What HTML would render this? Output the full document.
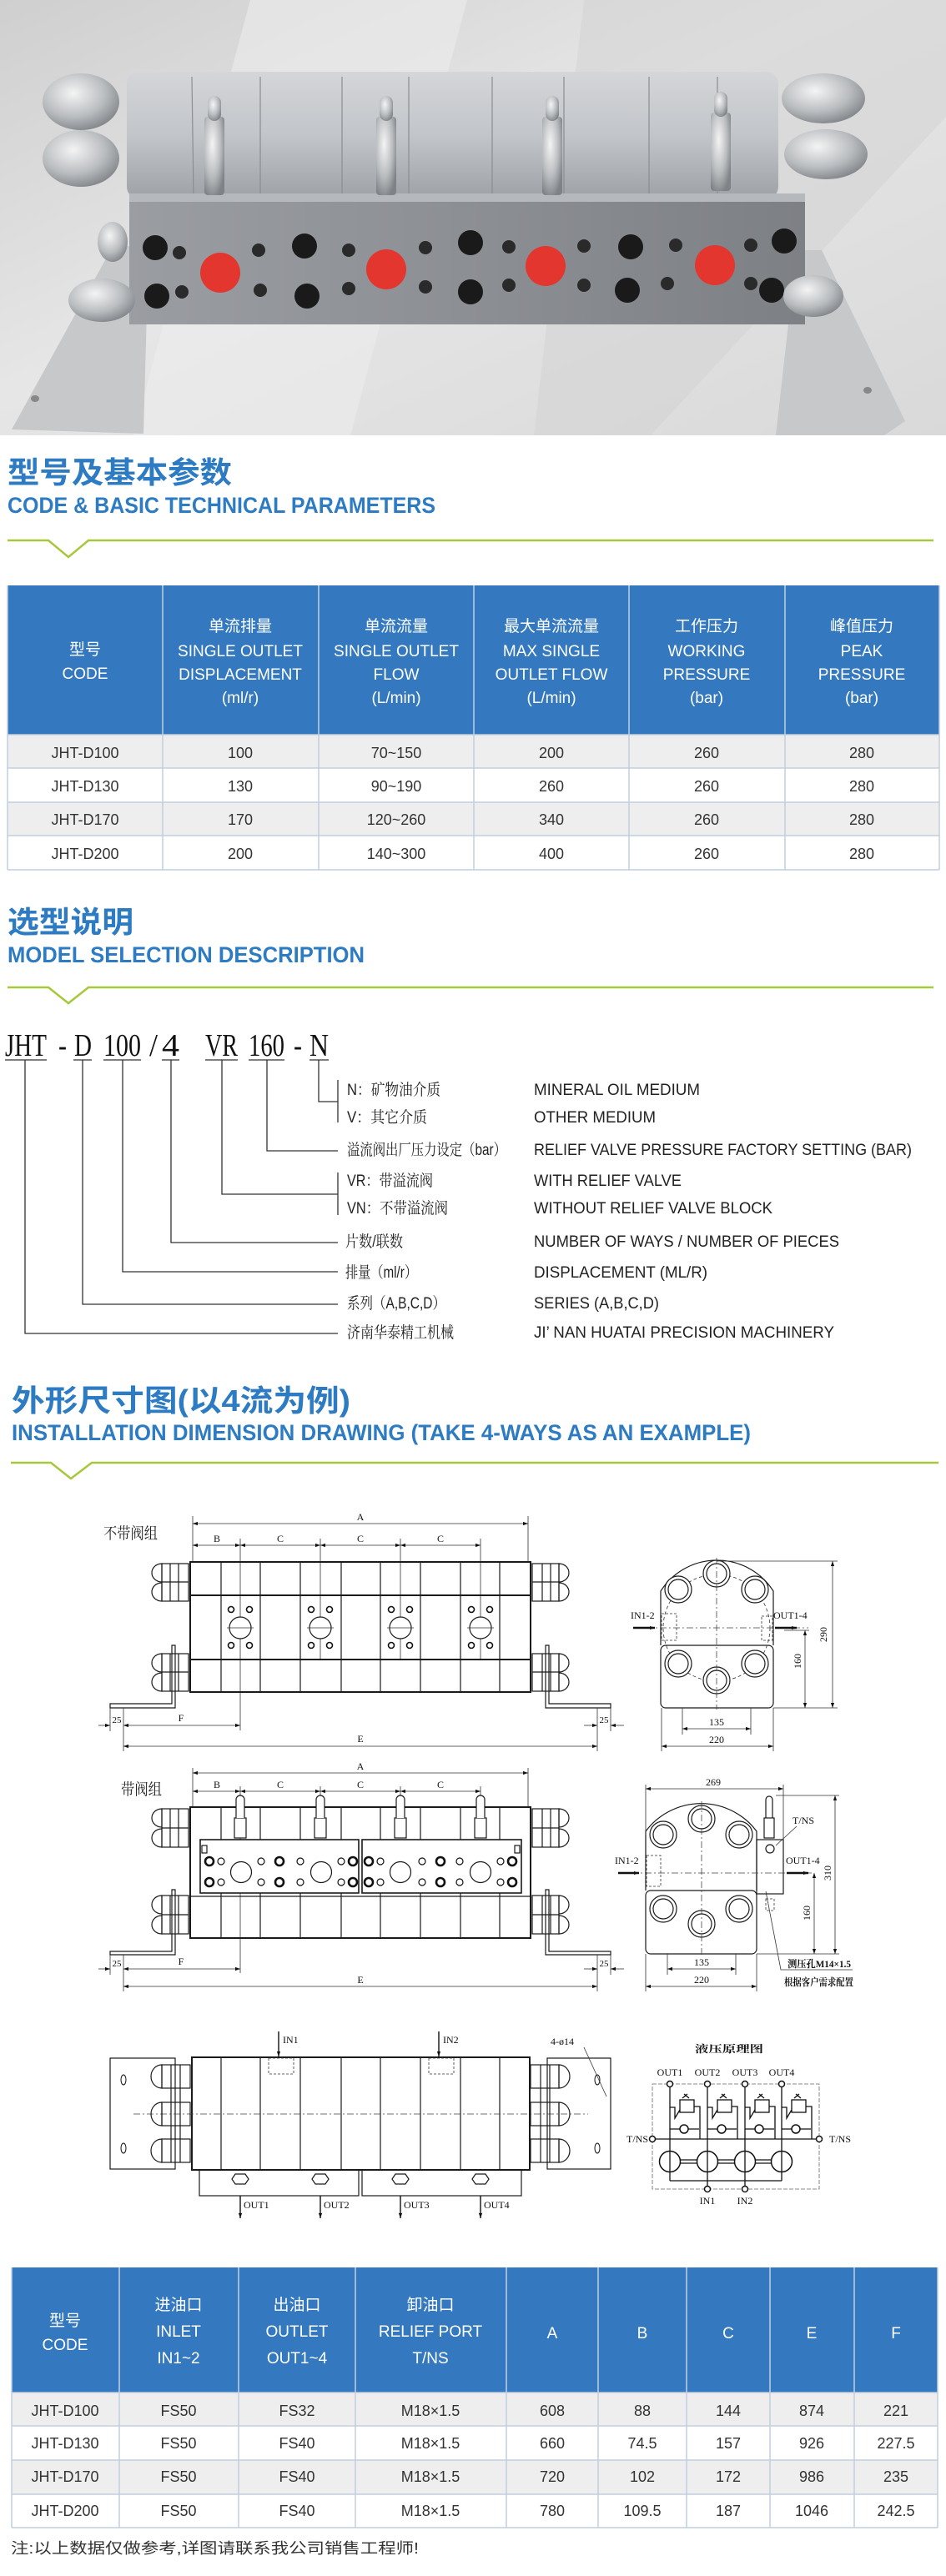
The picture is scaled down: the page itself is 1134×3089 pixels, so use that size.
<!DOCTYPE html>
<html><head><meta charset="utf-8"><style>
html,body{margin:0;padding:0;background:#fff}
svg{display:block}
.cn{font-family:"Liberation Sans","Noto Sans CJK SC",sans-serif}
.ttl{fill:#2d7cc3;font-weight:bold}
.th{fill:#fff;font-size:19px;text-anchor:middle}
.td{fill:#333;font-size:18px;text-anchor:middle}
.lb{font-family:"Liberation Sans","Noto Serif CJK SC",sans-serif;fill:#222;font-size:19px}
.dw{stroke:#1a1a1a;fill:none;stroke-width:1.2}
.dk{stroke:#1a1a1a;fill:none;stroke-width:2}
.th1{stroke:#333;fill:none;stroke-width:.8}
.dash{stroke:#444;fill:none;stroke-width:.8;stroke-dasharray:8 3 2 3}
.dt{font-family:"Liberation Serif","Noto Serif CJK SC",serif;font-size:12px;fill:#111}
</style></head><body>
<svg width="1134" height="3089" viewBox="0 0 1134 3089" xmlns="http://www.w3.org/2000/svg">
<defs>
<marker id="ar" viewBox="0 0 10 10" refX="10" refY="5" markerWidth="9" markerHeight="6" orient="auto-start-reverse" markerUnits="userSpaceOnUse"><path d="M0,1.5 L10,5 L0,8.5 Z" fill="#111"/></marker>
<linearGradient id="bg" x1="0" y1="0" x2="1" y2="1"><stop offset="0" stop-color="#cfcfcf"/><stop offset=".45" stop-color="#e6e6e6"/><stop offset="1" stop-color="#d9d9d9"/></linearGradient>
<linearGradient id="cyl" x1="0" y1="0" x2="0" y2="1"><stop offset="0" stop-color="#d4d6d9"/><stop offset=".5" stop-color="#c2c5c9"/><stop offset="1" stop-color="#9ea2a7"/></linearGradient>
<linearGradient id="blk" x1="0" y1="0" x2="1" y2="0"><stop offset="0" stop-color="#9a9da2"/><stop offset=".5" stop-color="#8c8f94"/><stop offset="1" stop-color="#7d8085"/></linearGradient>
<radialGradient id="met" cx=".4" cy=".35" r=".7"><stop offset="0" stop-color="#f4f4f4"/><stop offset=".6" stop-color="#b9bcbf"/><stop offset="1" stop-color="#7f8286"/></radialGradient>
</defs>

<!-- PHOTO -->
<rect x="0" y="0" width="1134" height="522" fill="url(#bg)"/>
<polygon points="300,0 560,0 420,522 160,522" fill="#ececec" opacity=".6"/>
<polygon points="700,0 1134,0 1134,140 780,522 640,522" fill="#d2d2d2" opacity=".5"/>
<polygon points="137,292 178,300 172,520 14,515" fill="#c6c8ca"/>
<polygon points="955,300 985,300 1085,505 1060,522 930,522" fill="#c6c8ca"/>
<ellipse cx="42" cy="478" rx="5" ry="4" fill="#888"/>
<ellipse cx="1040" cy="468" rx="5" ry="4" fill="#888"/>
<rect x="152" y="86" width="781" height="152" rx="14" fill="url(#cyl)"/>
<g stroke="#8a8d91" stroke-width="1.2">
<line x1="230" y1="92" x2="232" y2="232"/><line x1="312" y1="92" x2="312" y2="232"/><line x1="410" y1="92" x2="410" y2="232"/><line x1="490" y1="92" x2="490" y2="232"/><line x1="590" y1="92" x2="590" y2="232"/><line x1="676" y1="92" x2="676" y2="232"/><line x1="778" y1="92" x2="778" y2="232"/><line x1="860" y1="92" x2="860" y2="232"/></g>
<rect x="155" y="236" width="810" height="153" fill="url(#blk)"/>
<rect x="155" y="232" width="810" height="10" fill="#b5b8bc"/>
<g fill="#1a1a1a">
<circle cx="186" cy="297" r="15"/><circle cx="365" cy="295" r="15"/><circle cx="564" cy="291" r="15"/><circle cx="756" cy="296" r="15"/><circle cx="940" cy="289" r="15"/>
<circle cx="188" cy="355" r="15"/><circle cx="368" cy="355" r="15"/><circle cx="564" cy="350" r="15"/><circle cx="752" cy="348" r="15"/><circle cx="925" cy="348" r="15"/>
</g>
<g fill="#2a2a2a">
<circle cx="215" cy="303" r="8"/><circle cx="310" cy="300" r="8"/><circle cx="418" cy="300" r="8"/><circle cx="510" cy="297" r="8"/><circle cx="610" cy="296" r="8"/><circle cx="700" cy="295" r="8"/><circle cx="810" cy="294" r="8"/><circle cx="900" cy="294" r="8"/>
<circle cx="218" cy="350" r="8"/><circle cx="312" cy="348" r="8"/><circle cx="418" cy="346" r="8"/><circle cx="510" cy="344" r="8"/><circle cx="610" cy="342" r="8"/><circle cx="700" cy="342" r="8"/><circle cx="800" cy="340" r="8"/><circle cx="900" cy="340" r="8"/>
</g>
<g fill="#e2362e"><ellipse cx="264" cy="327" rx="24" ry="24"/><ellipse cx="463" cy="323" rx="24" ry="24"/><ellipse cx="654" cy="319" rx="24" ry="24"/><ellipse cx="857" cy="318" rx="24" ry="24"/></g>
<g fill="url(#met)">
<rect x="245" y="140" width="24" height="94" rx="4"/><rect x="451" y="140" width="24" height="94" rx="4"/><rect x="650" y="140" width="24" height="94" rx="4"/><rect x="852" y="135" width="24" height="94" rx="4"/>
<rect x="249" y="115" width="16" height="30" rx="8"/><rect x="455" y="115" width="16" height="30" rx="8"/><rect x="654" y="115" width="16" height="30" rx="8"/><rect x="856" y="110" width="16" height="30" rx="8"/>
<ellipse cx="97" cy="122" rx="46" ry="34"/><ellipse cx="97" cy="190" rx="46" ry="34"/><ellipse cx="987" cy="118" rx="50" ry="30"/><ellipse cx="990" cy="185" rx="50" ry="30"/>
<ellipse cx="122" cy="360" rx="40" ry="26"/><ellipse cx="975" cy="355" rx="36" ry="25"/><ellipse cx="135" cy="290" rx="18" ry="24"/>
</g>

<!-- SECTION 1 -->
<text x="9" y="579" class="cn ttl" font-size="36" textLength="269" lengthAdjust="spacingAndGlyphs">型号及基本参数</text>
<text x="9" y="615" class="cn ttl" font-size="27" textLength="513" lengthAdjust="spacingAndGlyphs">CODE &amp; BASIC TECHNICAL PARAMETERS</text>
<polyline points="9,648 58,648 82,668 106,648 1119,648" fill="none" stroke="#a7c83b" stroke-width="2.5"/>

<rect x="9" y="702" width="1117" height="179" fill="#3479bf"/>
<rect x="9" y="881" width="1117" height="40" fill="#eeeeee"/>
<rect x="9" y="962" width="1117" height="40" fill="#eeeeee"/>
<g stroke="#c2cfe0" stroke-width="1.5">
<line x1="9" y1="881" x2="1126" y2="881"/><line x1="9" y1="921" x2="1126" y2="921"/><line x1="9" y1="962" x2="1126" y2="962"/><line x1="9" y1="1002" x2="1126" y2="1002"/><line x1="9" y1="1043" x2="1126" y2="1043"/>
<line x1="195" y1="702" x2="195" y2="1043"/><line x1="382" y1="702" x2="382" y2="1043"/><line x1="568" y1="702" x2="568" y2="1043"/><line x1="754" y1="702" x2="754" y2="1043"/><line x1="941" y1="702" x2="941" y2="1043"/>
<line x1="9" y1="702" x2="9" y2="1043"/><line x1="1126" y1="702" x2="1126" y2="1043"/></g>
<g class="cn th">
<text x="102" y="785">型号</text><text x="102" y="814">CODE</text>
<text x="288" y="757">单流排量</text><text x="288" y="787">SINGLE OUTLET</text><text x="288" y="815">DISPLACEMENT</text><text x="288" y="843">(ml/r)</text>
<text x="475" y="757">单流流量</text><text x="475" y="787">SINGLE OUTLET</text><text x="475" y="815">FLOW</text><text x="475" y="843">(L/min)</text>
<text x="661" y="757">最大单流流量</text><text x="661" y="787">MAX SINGLE</text><text x="661" y="815">OUTLET FLOW</text><text x="661" y="843">(L/min)</text>
<text x="847" y="757">工作压力</text><text x="847" y="787">WORKING</text><text x="847" y="815">PRESSURE</text><text x="847" y="843">(bar)</text>
<text x="1033" y="757">峰值压力</text><text x="1033" y="787">PEAK</text><text x="1033" y="815">PRESSURE</text><text x="1033" y="843">(bar)</text>
</g>
<g class="cn td">
<text x="102" y="909">JHT-D100</text><text x="288" y="909">100</text><text x="475" y="909">70~150</text><text x="661" y="909">200</text><text x="847" y="909">260</text><text x="1033" y="909">280</text>
<text x="102" y="949">JHT-D130</text><text x="288" y="949">130</text><text x="475" y="949">90~190</text><text x="661" y="949">260</text><text x="847" y="949">260</text><text x="1033" y="949">280</text>
<text x="102" y="989">JHT-D170</text><text x="288" y="989">170</text><text x="475" y="989">120~260</text><text x="661" y="989">340</text><text x="847" y="989">260</text><text x="1033" y="989">280</text>
<text x="102" y="1030">JHT-D200</text><text x="288" y="1030">200</text><text x="475" y="1030">140~300</text><text x="661" y="1030">400</text><text x="847" y="1030">260</text><text x="1033" y="1030">280</text>
</g>

<!-- SECTION 2 -->
<text x="9" y="1118" class="cn ttl" font-size="36" textLength="151" lengthAdjust="spacingAndGlyphs">选型说明</text>
<text x="9" y="1154" class="cn ttl" font-size="27" textLength="428" lengthAdjust="spacingAndGlyphs">MODEL SELECTION DESCRIPTION</text>
<polyline points="9,1184 58,1184 82,1203 106,1184 1119,1184" fill="none" stroke="#a7c83b" stroke-width="2.5"/>

<g font-family="Liberation Serif,serif" font-size="38" fill="#111">
<text x="6" y="1266" textLength="50" lengthAdjust="spacingAndGlyphs">JHT</text>
<text x="70" y="1266" textLength="10" lengthAdjust="spacingAndGlyphs">-</text>
<text x="89" y="1266" textLength="21" lengthAdjust="spacingAndGlyphs">D</text>
<text x="124" y="1266" textLength="45" lengthAdjust="spacingAndGlyphs">100</text>
<text x="179" y="1266" textLength="10" lengthAdjust="spacingAndGlyphs">/</text>
<text x="194" y="1266" textLength="21" lengthAdjust="spacingAndGlyphs">4</text>
<text x="246" y="1266" textLength="39" lengthAdjust="spacingAndGlyphs">VR</text>
<text x="298" y="1266" textLength="43" lengthAdjust="spacingAndGlyphs">160</text>
<text x="352" y="1266" textLength="10" lengthAdjust="spacingAndGlyphs">-</text>
<text x="371" y="1266" textLength="23" lengthAdjust="spacingAndGlyphs">N</text>
</g>
<g stroke="#333" stroke-width="1.3" fill="none">
<line x1="6" y1="1271" x2="56" y2="1271"/><line x1="88" y1="1271" x2="110" y2="1271"/><line x1="124" y1="1271" x2="169" y2="1271"/><line x1="194" y1="1271" x2="215" y2="1271"/><line x1="246" y1="1271" x2="285" y2="1271"/><line x1="298" y1="1271" x2="341" y2="1271"/><line x1="371" y1="1271" x2="394" y2="1271"/>
<polyline points="30,1271 30,1599 405,1599"/>
<polyline points="99,1271 99,1564 405,1564"/>
<polyline points="147,1271 147,1525 405,1525"/>
<polyline points="205,1271 205,1490 405,1490"/>
<polyline points="266,1271 266,1432 405,1432"/>
<polyline points="320,1271 320,1380 405,1380"/>
<polyline points="382,1271 382,1321 405,1321"/>
<line x1="405" y1="1295" x2="405" y2="1346"/>
<line x1="405" y1="1406" x2="405" y2="1457"/>
</g>
<g class="lb">
<text x="416" y="1313" textLength="112" lengthAdjust="spacingAndGlyphs">N：矿物油介质</text>
<text x="416" y="1346" textLength="96" lengthAdjust="spacingAndGlyphs">V：其它介质</text>
<text x="416" y="1385" textLength="191" lengthAdjust="spacingAndGlyphs">溢流阀出厂压力设定（bar）</text>
<text x="416" y="1422" textLength="103" lengthAdjust="spacingAndGlyphs">VR：带溢流阀</text>
<text x="416" y="1455" textLength="121" lengthAdjust="spacingAndGlyphs">VN：不带溢流阀</text>
<text x="414" y="1495" textLength="69" lengthAdjust="spacingAndGlyphs">片数/联数</text>
<text x="414" y="1532" textLength="86" lengthAdjust="spacingAndGlyphs">排量（ml/r）</text>
<text x="416" y="1569" textLength="118" lengthAdjust="spacingAndGlyphs">系列（A,B,C,D）</text>
<text x="416" y="1604" textLength="128" lengthAdjust="spacingAndGlyphs">济南华泰精工机械</text>
<text x="640" y="1313" textLength="199" lengthAdjust="spacingAndGlyphs">MINERAL OIL MEDIUM</text>
<text x="640" y="1346" textLength="146" lengthAdjust="spacingAndGlyphs">OTHER MEDIUM</text>
<text x="640" y="1385" textLength="453" lengthAdjust="spacingAndGlyphs">RELIEF VALVE PRESSURE FACTORY SETTING (BAR)</text>
<text x="640" y="1422" textLength="177" lengthAdjust="spacingAndGlyphs">WITH RELIEF VALVE</text>
<text x="640" y="1455" textLength="286" lengthAdjust="spacingAndGlyphs">WITHOUT RELIEF VALVE BLOCK</text>
<text x="640" y="1495" textLength="366" lengthAdjust="spacingAndGlyphs">NUMBER OF WAYS / NUMBER OF PIECES</text>
<text x="640" y="1532" textLength="208" lengthAdjust="spacingAndGlyphs">DISPLACEMENT (ML/R)</text>
<text x="640" y="1569" textLength="150" lengthAdjust="spacingAndGlyphs">SERIES (A,B,C,D)</text>
<text x="640" y="1604" textLength="360" lengthAdjust="spacingAndGlyphs">JI’ NAN HUATAI PRECISION MACHINERY</text>
</g>

<!-- SECTION 3 -->
<text x="14" y="1692" class="cn ttl" font-size="36" textLength="406" lengthAdjust="spacingAndGlyphs">外形尺寸图(以4流为例)</text>
<text x="14" y="1727" class="cn ttl" font-size="27" textLength="886" lengthAdjust="spacingAndGlyphs">INSTALLATION DIMENSION DRAWING (TAKE 4-WAYS AS AN EXAMPLE)</text>
<polyline points="13,1754 61,1754 85,1773 110,1754 1125,1754" fill="none" stroke="#a7c83b" stroke-width="2.5"/>

<!-- Drawing 1 -->
<text x="124" y="1845" class="lb" font-size="19" textLength="65" lengthAdjust="spacingAndGlyphs">不带阀组</text>
<g class="th1">
<line x1="231" y1="1818" x2="231" y2="1873"/><line x1="633" y1="1818" x2="633" y2="1873"/>
<line x1="288" y1="1845" x2="288" y2="2075"/><line x1="384" y1="1845" x2="384" y2="1990"/><line x1="480" y1="1845" x2="480" y2="1990"/><line x1="576" y1="1845" x2="576" y2="1990"/>
</g>
<g class="th1" marker-start="url(#ar)" marker-end="url(#ar)">
<line x1="231" y1="1827" x2="633" y2="1827" marker-start="url(#ar)" marker-end="url(#ar)"/>
<line x1="231" y1="1853" x2="288" y2="1853" marker-start="url(#ar)" marker-end="url(#ar)"/>
<line x1="288" y1="1853" x2="384" y2="1853" marker-start="url(#ar)" marker-end="url(#ar)"/>
<line x1="384" y1="1853" x2="480" y2="1853" marker-start="url(#ar)" marker-end="url(#ar)"/>
<line x1="480" y1="1853" x2="576" y2="1853" marker-start="url(#ar)" marker-end="url(#ar)"/>
</g>
<g class="dt" text-anchor="middle"><text x="432" y="1823">A</text><text x="260" y="1849">B</text><text x="336" y="1849">C</text><text x="432" y="1849">C</text><text x="528" y="1849">C</text></g>
<rect x="228" y="1873" width="408" height="156" class="dk"/>
<line x1="228" y1="1913" x2="636" y2="1913" class="dk"/><line x1="228" y1="1990" x2="636" y2="1990" class="dk"/>
<g class="dw"><line x1="265" y1="1873" x2="265" y2="2029"/><line x1="312" y1="1873" x2="312" y2="2029"/><line x1="360" y1="1873" x2="360" y2="2029"/><line x1="409" y1="1873" x2="409" y2="2029"/><line x1="456" y1="1873" x2="456" y2="2029"/><line x1="504" y1="1873" x2="504" y2="2029"/><line x1="552" y1="1873" x2="552" y2="2029"/><line x1="599" y1="1873" x2="599" y2="2029"/></g>
<g class="dw" fill="#fff">
<circle cx="288" cy="1952" r="13" fill="#fff"/><circle cx="384" cy="1952" r="13" fill="#fff"/><circle cx="480" cy="1952" r="13" fill="#fff"/><circle cx="576" cy="1952" r="13" fill="#fff"/>
</g>
<g fill="#fff" stroke="#111" stroke-width="1.6">
<circle cx="277" cy="1930" r="3.5"/><circle cx="299" cy="1930" r="3.5"/><circle cx="277" cy="1973" r="3.5"/><circle cx="299" cy="1973" r="3.5"/>
<circle cx="373" cy="1930" r="3.5"/><circle cx="395" cy="1930" r="3.5"/><circle cx="373" cy="1973" r="3.5"/><circle cx="395" cy="1973" r="3.5"/>
<circle cx="469" cy="1930" r="3.5"/><circle cx="491" cy="1930" r="3.5"/><circle cx="469" cy="1973" r="3.5"/><circle cx="491" cy="1973" r="3.5"/>
<circle cx="565" cy="1930" r="3.5"/><circle cx="587" cy="1930" r="3.5"/><circle cx="565" cy="1973" r="3.5"/><circle cx="587" cy="1973" r="3.5"/>
</g>
<g class="th1"><line x1="272" y1="1952" x2="304" y2="1952"/><line x1="368" y1="1952" x2="400" y2="1952"/><line x1="464" y1="1952" x2="496" y2="1952"/><line x1="560" y1="1952" x2="592" y2="1952"/></g>
<!-- glands d1 -->
<g class="dw" fill="#fff">
<path d="M194,1875 A12,11 0 0 0 194,1897 Z M194,1898 A12,11 0 0 0 194,1920 Z M194,1983 A12,11 0 0 0 194,2005 Z M194,2006 A12,11 0 0 0 194,2028 Z"/>
<rect x="194" y="1875" width="32" height="45"/><rect x="194" y="1983" width="32" height="45"/>
<line x1="204" y1="1875" x2="204" y2="1920"/><line x1="214" y1="1875" x2="214" y2="1920"/><line x1="194" y1="1897" x2="226" y2="1897"/>
<line x1="204" y1="1983" x2="204" y2="2028"/><line x1="214" y1="1983" x2="214" y2="2028"/><line x1="194" y1="2005" x2="226" y2="2005"/>
<path d="M670,1875 A12,11 0 0 1 670,1897 Z M670,1898 A12,11 0 0 1 670,1920 Z M670,1983 A12,11 0 0 1 670,2005 Z M670,2006 A12,11 0 0 1 670,2028 Z"/>
<rect x="638" y="1875" width="32" height="45"/><rect x="638" y="1983" width="32" height="45"/>
<line x1="650" y1="1875" x2="650" y2="1920"/><line x1="660" y1="1875" x2="660" y2="1920"/><line x1="638" y1="1897" x2="670" y2="1897"/>
<line x1="650" y1="1983" x2="650" y2="2028"/><line x1="660" y1="1983" x2="660" y2="2028"/><line x1="638" y1="2005" x2="670" y2="2005"/>
</g>
<path d="M206,1973 L206,2043 L132,2043 L132,2048 L210,2048 L210,1973 Z" class="dw" fill="#fff"/>
<path d="M658,1973 L658,2043 L732,2043 L732,2048 L654,2048 L654,1973 Z" class="dw" fill="#fff"/>
<g class="th1"><line x1="132" y1="2048" x2="132" y2="2076"/><line x1="148" y1="2048" x2="148" y2="2100"/><line x1="716" y1="2048" x2="716" y2="2100"/><line x1="732" y1="2048" x2="732" y2="2076"/>
<line x1="118" y1="2069" x2="132" y2="2069" marker-end="url(#ar)"/><line x1="148" y1="2069" x2="288" y2="2069" marker-start="url(#ar)" marker-end="url(#ar)"/>
<line x1="148" y1="2094" x2="716" y2="2094" marker-start="url(#ar)" marker-end="url(#ar)"/>
<line x1="700" y1="2069" x2="716" y2="2069" marker-end="url(#ar)"/><line x1="748" y1="2069" x2="732" y2="2069" marker-end="url(#ar)"/></g>
<g class="dt" text-anchor="middle"><text x="140" y="2066" font-size="11">25</text><text x="217" y="2064">F</text><text x="432" y="2089">E</text><text x="724" y="2066" font-size="11">25</text></g>
<!-- side 1 -->
<path d="M792,1973 L792,1908 A80,80 0 0 1 927,1908 L927,1973" class="dw"/>
<rect x="792" y="1973" width="135" height="75" rx="6" class="dw"/>
<circle cx="859" cy="1952" r="64" class="th1" stroke-dasharray="4 3"/>
<g class="dw" fill="#fff">
<circle cx="859" cy="1887" r="16" fill="#fff"/><circle cx="813" cy="1906" r="16" fill="#fff"/><circle cx="905" cy="1906" r="16" fill="#fff"/><circle cx="813" cy="1995" r="16" fill="#fff"/><circle cx="905" cy="1995" r="16" fill="#fff"/><circle cx="859" cy="2015" r="16" fill="#fff"/>
<circle cx="859" cy="1887" r="12"/><circle cx="813" cy="1906" r="12"/><circle cx="905" cy="1906" r="12"/><circle cx="813" cy="1995" r="12"/><circle cx="905" cy="1995" r="12"/><circle cx="859" cy="2015" r="12"/>
</g>
<line x1="759" y1="1952" x2="969" y2="1952" class="dash"/><line x1="859" y1="1868" x2="859" y2="2050" class="dash"/>
<rect x="793" y="1935" width="18" height="32" class="th1" stroke-dasharray="3 2"/><rect x="913" y="1938" width="13" height="29" class="th1" stroke-dasharray="3 2"/>
<line x1="759" y1="1952" x2="785" y2="1952" stroke="#111" stroke-width="2.5" marker-end="url(#ar)"/>
<line x1="929" y1="1952" x2="955" y2="1952" stroke="#111" stroke-width="2.5" marker-end="url(#ar)"/>
<text x="756" y="1941" class="dt" font-size="11">IN1-2</text><text x="927" y="1941" class="dt" font-size="11">OUT1-4</text>
<g class="th1"><line x1="859" y1="1872" x2="1004" y2="1872"/><line x1="927" y1="2048" x2="1004" y2="2048"/><line x1="940" y1="1955" x2="970" y2="1955"/>
<line x1="998" y1="1872" x2="998" y2="2048" marker-start="url(#ar)" marker-end="url(#ar)"/><line x1="965" y1="1955" x2="965" y2="2048" marker-start="url(#ar)" marker-end="url(#ar)"/>
<line x1="818" y1="2048" x2="818" y2="2080"/><line x1="900" y1="2048" x2="900" y2="2080"/><line x1="793" y1="2048" x2="793" y2="2100"/><line x1="927" y1="2048" x2="927" y2="2100"/>
<line x1="818" y1="2073" x2="900" y2="2073" marker-start="url(#ar)" marker-end="url(#ar)"/><line x1="793" y1="2094" x2="927" y2="2094" marker-start="url(#ar)" marker-end="url(#ar)"/></g>
<g class="dt" text-anchor="middle"><text transform="translate(991,1960) rotate(-90)">290</text><text transform="translate(960,1992) rotate(-90)">160</text><text x="859" y="2069">135</text><text x="859" y="2090">220</text></g>

<!-- Drawing 2 -->
<text x="145" y="2152" class="lb" font-size="19" textLength="49" lengthAdjust="spacingAndGlyphs">带阀组</text>
<g class="th1">
<line x1="231" y1="2120" x2="231" y2="2167"/><line x1="633" y1="2120" x2="633" y2="2167"/>
<line x1="288" y1="2142" x2="288" y2="2366"/><line x1="384" y1="2142" x2="384" y2="2156"/><line x1="480" y1="2142" x2="480" y2="2156"/><line x1="576" y1="2142" x2="576" y2="2156"/>
<line x1="231" y1="2126" x2="633" y2="2126" marker-start="url(#ar)" marker-end="url(#ar)"/>
<line x1="231" y1="2148" x2="288" y2="2148" marker-start="url(#ar)" marker-end="url(#ar)"/>
<line x1="288" y1="2148" x2="384" y2="2148" marker-start="url(#ar)" marker-end="url(#ar)"/>
<line x1="384" y1="2148" x2="480" y2="2148" marker-start="url(#ar)" marker-end="url(#ar)"/>
<line x1="480" y1="2148" x2="576" y2="2148" marker-start="url(#ar)" marker-end="url(#ar)"/>
</g>
<g class="dt" text-anchor="middle"><text x="432" y="2122">A</text><text x="260" y="2144">B</text><text x="336" y="2144">C</text><text x="432" y="2144">C</text><text x="528" y="2144">C</text></g>
<rect x="228" y="2167" width="408" height="157" class="dk"/>
<line x1="228" y1="2274" x2="636" y2="2274" class="dw"/>
<g class="dw"><line x1="265" y1="2167" x2="265" y2="2324"/><line x1="312" y1="2167" x2="312" y2="2324"/><line x1="360" y1="2167" x2="360" y2="2324"/><line x1="409" y1="2167" x2="409" y2="2324"/><line x1="456" y1="2167" x2="456" y2="2324"/><line x1="504" y1="2167" x2="504" y2="2324"/><line x1="552" y1="2167" x2="552" y2="2324"/><line x1="599" y1="2167" x2="599" y2="2324"/></g>
<g class="dw" fill="#fff">
<rect x="281" y="2180" width="14" height="24" fill="#fff"/><rect x="377" y="2180" width="14" height="24" fill="#fff"/><rect x="473" y="2180" width="14" height="24" fill="#fff"/><rect x="569" y="2180" width="14" height="24" fill="#fff"/>
<path d="M283,2180 L283,2158 A5,5 0 0 1 293,2158 L293,2180 M379,2180 L379,2158 A5,5 0 0 1 389,2158 L389,2180 M475,2180 L475,2158 A5,5 0 0 1 485,2158 L485,2180 M571,2180 L571,2158 A5,5 0 0 1 581,2158 L581,2180" fill="#fff"/>
<rect x="240" y="2206" width="190" height="64" fill="#fff" stroke-width="1.6"/><rect x="434" y="2206" width="191" height="64" fill="#fff" stroke-width="1.6"/>
<circle cx="289" cy="2245" r="12.5"/><circle cx="385" cy="2245" r="12.5"/><circle cx="480" cy="2245" r="12.5"/><circle cx="576" cy="2245" r="12.5"/>
<rect x="242" y="2213" width="6" height="9"/><rect x="617" y="2213" width="6" height="9"/>
</g>
<g fill="#fff" stroke="#111" stroke-width="2.6">
<circle cx="251" cy="2232" r="5"/><circle cx="335" cy="2232" r="5"/><circle cx="423" cy="2232" r="5"/><circle cx="442" cy="2232" r="5"/><circle cx="528" cy="2232" r="5"/><circle cx="614" cy="2232" r="5"/>
<circle cx="251" cy="2257" r="5"/><circle cx="335" cy="2257" r="5"/><circle cx="423" cy="2257" r="5"/><circle cx="442" cy="2257" r="5"/><circle cx="528" cy="2257" r="5"/><circle cx="614" cy="2257" r="5"/>
</g>
<g fill="#fff" stroke="#111" stroke-width="1.2">
<circle cx="265" cy="2232" r="4"/><circle cx="313" cy="2232" r="4"/><circle cx="360" cy="2232" r="4"/><circle cx="409" cy="2232" r="4"/><circle cx="456" cy="2232" r="4"/><circle cx="506" cy="2232" r="4"/><circle cx="551" cy="2232" r="4"/><circle cx="600" cy="2232" r="4"/>
<circle cx="265" cy="2257" r="4"/><circle cx="313" cy="2257" r="4"/><circle cx="360" cy="2257" r="4"/><circle cx="409" cy="2257" r="4"/><circle cx="456" cy="2257" r="4"/><circle cx="506" cy="2257" r="4"/><circle cx="551" cy="2257" r="4"/><circle cx="600" cy="2257" r="4"/>
</g>
<g class="dw" fill="#fff">
<path d="M194,2169 A12,11 0 0 0 194,2191 Z M194,2193 A12,11 0 0 0 194,2215 Z M194,2273 A12,11 0 0 0 194,2295 Z M194,2297 A12,11 0 0 0 194,2319 Z"/>
<rect x="194" y="2169" width="32" height="46"/><rect x="194" y="2273" width="32" height="46"/>
<line x1="204" y1="2169" x2="204" y2="2215"/><line x1="214" y1="2169" x2="214" y2="2215"/><line x1="194" y1="2192" x2="226" y2="2192"/>
<line x1="204" y1="2273" x2="204" y2="2319"/><line x1="214" y1="2273" x2="214" y2="2319"/><line x1="194" y1="2296" x2="226" y2="2296"/>
<path d="M670,2169 A12,11 0 0 1 670,2191 Z M670,2193 A12,11 0 0 1 670,2215 Z M670,2273 A12,11 0 0 1 670,2295 Z M670,2297 A12,11 0 0 1 670,2319 Z"/>
<rect x="638" y="2169" width="32" height="46"/><rect x="638" y="2273" width="32" height="46"/>
<line x1="650" y1="2169" x2="650" y2="2215"/><line x1="660" y1="2169" x2="660" y2="2215"/><line x1="638" y1="2192" x2="670" y2="2192"/>
<line x1="650" y1="2273" x2="650" y2="2319"/><line x1="660" y1="2273" x2="660" y2="2319"/><line x1="638" y1="2296" x2="670" y2="2296"/>
</g>
<path d="M206,2266 L206,2340 L132,2340 L132,2344 L210,2344 L210,2266 Z" class="dw" fill="#fff"/>
<path d="M658,2266 L658,2340 L732,2340 L732,2344 L654,2344 L654,2266 Z" class="dw" fill="#fff"/>
<g class="th1"><line x1="132" y1="2344" x2="132" y2="2368"/><line x1="148" y1="2344" x2="148" y2="2388"/><line x1="716" y1="2344" x2="716" y2="2388"/><line x1="732" y1="2344" x2="732" y2="2368"/>
<line x1="118" y1="2361" x2="132" y2="2361" marker-end="url(#ar)"/><line x1="148" y1="2361" x2="288" y2="2361" marker-start="url(#ar)" marker-end="url(#ar)"/>
<line x1="148" y1="2382" x2="716" y2="2382" marker-start="url(#ar)" marker-end="url(#ar)"/>
<line x1="700" y1="2361" x2="716" y2="2361" marker-end="url(#ar)"/><line x1="748" y1="2361" x2="732" y2="2361" marker-end="url(#ar)"/></g>
<g class="dt" text-anchor="middle"><text x="140" y="2358" font-size="11">25</text><text x="217" y="2356">F</text><text x="432" y="2378">E</text><text x="724" y="2358" font-size="11">25</text></g>
<!-- side 2 -->
<path d="M774,2267 L774,2196 A83,83 0 0 1 907,2196 L907,2267" class="dw"/>
<rect x="774" y="2267" width="133" height="76" rx="6" class="dw"/>
<rect x="907" y="2206" width="32" height="65" class="dw"/>
<rect x="916" y="2180" width="12" height="24" class="dw"/><path d="M918,2180 L918,2158 A4,4 0 0 1 926,2158 L926,2180" class="dw"/>
<circle cx="923" cy="2217" r="5" class="dw"/>
<g class="dw" fill="#fff">
<circle cx="841" cy="2181" r="16" fill="#fff"/><circle cx="795" cy="2200" r="16" fill="#fff"/><circle cx="886" cy="2200" r="16" fill="#fff"/><circle cx="795" cy="2289" r="16" fill="#fff"/><circle cx="886" cy="2289" r="16" fill="#fff"/><circle cx="841" cy="2307" r="16" fill="#fff"/>
<circle cx="841" cy="2181" r="12"/><circle cx="795" cy="2200" r="12"/><circle cx="886" cy="2200" r="12"/><circle cx="795" cy="2289" r="12"/><circle cx="886" cy="2289" r="12"/><circle cx="841" cy="2307" r="12"/>
</g>
<line x1="741" y1="2246" x2="975" y2="2246" class="dash"/><line x1="841" y1="2160" x2="841" y2="2345" class="dash"/>
<rect x="775" y="2225" width="17" height="37" class="th1" stroke-dasharray="3 2"/><rect x="918" y="2277" width="10" height="14" class="th1" stroke-dasharray="3 2"/>
<line x1="741" y1="2246" x2="766" y2="2246" stroke="#111" stroke-width="2.5" marker-end="url(#ar)"/>
<line x1="943" y1="2246" x2="969" y2="2246" stroke="#111" stroke-width="2.5" marker-end="url(#ar)"/>
<text x="737" y="2235" class="dt" font-size="11">IN1-2</text><text x="942" y="2235" class="dt" font-size="11">OUT1-4</text>
<text x="950" y="2187" class="dt" font-size="11">T/NS</text><line x1="955" y1="2190" x2="930" y2="2213" class="th1"/>
<g class="th1"><line x1="774" y1="2140" x2="774" y2="2200"/><line x1="939" y1="2140" x2="939" y2="2206"/>
<line x1="774" y1="2145" x2="939" y2="2145" marker-start="url(#ar)" marker-end="url(#ar)"/>
<line x1="930" y1="2153" x2="1006" y2="2153"/><line x1="907" y1="2343" x2="1006" y2="2343"/>
<line x1="1001" y1="2153" x2="1001" y2="2343" marker-start="url(#ar)" marker-end="url(#ar)"/><line x1="976" y1="2246" x2="976" y2="2343" marker-start="url(#ar)" marker-end="url(#ar)"/>
<line x1="800" y1="2343" x2="800" y2="2368"/><line x1="882" y1="2343" x2="882" y2="2368"/><line x1="774" y1="2343" x2="774" y2="2388"/><line x1="907" y1="2343" x2="907" y2="2388"/>
<line x1="800" y1="2361" x2="882" y2="2361" marker-start="url(#ar)" marker-end="url(#ar)"/><line x1="774" y1="2382" x2="907" y2="2382" marker-start="url(#ar)" marker-end="url(#ar)"/>
<polyline points="918,2268 936,2362 1022,2362"/></g>
<g class="dt" text-anchor="middle"><text x="855" y="2141">269</text><text transform="translate(996,2246) rotate(-90)">310</text><text transform="translate(971,2294) rotate(-90)">160</text><text x="841" y="2357">135</text><text x="841" y="2378">220</text></g>
<text x="944" y="2359" class="dt" font-size="12" font-weight="bold" textLength="76" lengthAdjust="spacingAndGlyphs">测压孔M14×1.5</text>
<text x="940" y="2381" class="dt" font-size="13" font-weight="bold" textLength="83" lengthAdjust="spacingAndGlyphs">根据客户需求配置</text>

<!-- Bottom view -->
<rect x="132" y="2468" width="78" height="133" class="dw"/><rect x="656" y="2468" width="76" height="133" class="dw"/>
<g fill="#fff" stroke="#111"><ellipse cx="148" cy="2494" rx="3" ry="6"/><ellipse cx="148" cy="2576" rx="3" ry="6"/><ellipse cx="716" cy="2494" rx="3" ry="6"/><ellipse cx="716" cy="2576" rx="3" ry="6"/></g>
<rect x="230" y="2467" width="405" height="135" class="dk" fill="#fff"/>
<g class="dw"><line x1="265" y1="2467" x2="265" y2="2602"/><line x1="312" y1="2467" x2="312" y2="2602"/><line x1="360" y1="2467" x2="360" y2="2602"/><line x1="409" y1="2467" x2="409" y2="2602"/><line x1="456" y1="2467" x2="456" y2="2602"/><line x1="504" y1="2467" x2="504" y2="2602"/><line x1="552" y1="2467" x2="552" y2="2602"/><line x1="599" y1="2467" x2="599" y2="2602"/></g>
<line x1="160" y1="2535" x2="705" y2="2535" class="dash"/>
<g class="dw" fill="#fff">
<path d="M194,2476 A13,14 0 0 0 194,2504 Z M194,2521 A13,14 0 0 0 194,2549 Z M194,2565 A13,14 0 0 0 194,2593 Z"/>
<rect x="194" y="2476" width="34" height="28"/><rect x="194" y="2521" width="34" height="28"/><rect x="194" y="2565" width="34" height="28"/>
<line x1="205" y1="2476" x2="205" y2="2593"/><line x1="216" y1="2476" x2="216" y2="2593"/>
<path d="M670,2476 A13,14 0 0 1 670,2504 Z M670,2521 A13,14 0 0 1 670,2549 Z M670,2565 A13,14 0 0 1 670,2593 Z"/>
<rect x="636" y="2476" width="34" height="28"/><rect x="636" y="2521" width="34" height="28"/><rect x="636" y="2565" width="34" height="28"/>
<line x1="648" y1="2476" x2="648" y2="2593"/><line x1="659" y1="2476" x2="659" y2="2593"/>
<rect x="239" y="2602" width="191" height="31"/><rect x="434" y="2602" width="191" height="31"/>
<path d="M282,2607 L294,2607 L298,2613 L294,2619 L282,2619 L278,2613 Z M378,2607 L390,2607 L394,2613 L390,2619 L378,2619 L374,2613 Z M474,2607 L486,2607 L490,2613 L486,2619 L474,2619 L470,2613 Z M570,2607 L582,2607 L586,2613 L582,2619 L570,2619 L566,2613 Z"/>
</g>
<rect x="322" y="2468" width="30" height="19" class="th1" stroke-dasharray="3 2"/><rect x="514" y="2468" width="30" height="19" class="th1" stroke-dasharray="3 2"/>
<g stroke="#111" stroke-width="1.4"><line x1="334" y1="2436" x2="334" y2="2466" marker-end="url(#ar)"/><line x1="526" y1="2436" x2="526" y2="2466" marker-end="url(#ar)"/>
<line x1="288" y1="2633" x2="288" y2="2660" marker-end="url(#ar)"/><line x1="384" y1="2633" x2="384" y2="2660" marker-end="url(#ar)"/><line x1="480" y1="2633" x2="480" y2="2660" marker-end="url(#ar)"/><line x1="576" y1="2633" x2="576" y2="2660" marker-end="url(#ar)"/></g>
<g class="dt" font-size="11"><text x="339" y="2450">IN1</text><text x="531" y="2450">IN2</text><text x="292" y="2648">OUT1</text><text x="388" y="2648">OUT2</text><text x="484" y="2648">OUT3</text><text x="580" y="2648">OUT4</text><text x="660" y="2452">4-ø14</text></g>
<line x1="700" y1="2455" x2="727" y2="2514" class="th1"/>

<!-- schematic -->
<text x="833" y="2461" class="dt" font-size="19" font-weight="bold" textLength="82" lengthAdjust="spacingAndGlyphs">液压原理图</text>
<rect x="782" y="2499" width="200" height="126" fill="none" stroke="#666" stroke-width=".8" stroke-dasharray="5 2"/>
<g class="dt" font-size="11" text-anchor="middle"><text x="803" y="2489">OUT1</text><text x="848" y="2489">OUT2</text><text x="893" y="2489">OUT3</text><text x="937" y="2489">OUT4</text><text x="848" y="2643">IN1</text><text x="893" y="2643">IN2</text><text x="764" y="2569">T/NS</text><text x="1007" y="2569">T/NS</text></g>
<g stroke="#111" stroke-width="1.3" fill="none">
<line x1="803" y1="2499" x2="803" y2="2592"/><line x1="848" y1="2499" x2="848" y2="2592"/><line x1="893" y1="2499" x2="893" y2="2592"/><line x1="937" y1="2499" x2="937" y2="2592"/>
<line x1="785" y1="2565" x2="982" y2="2565"/>
<polyline points="803,2615 937,2615"/><line x1="848" y1="2615" x2="848" y2="2624"/><line x1="893" y1="2615" x2="893" y2="2624"/>
<rect x="815" y="2518" width="17" height="15"/><rect x="860" y="2518" width="17" height="15"/><rect x="905" y="2518" width="17" height="15"/><rect x="949" y="2518" width="17" height="15"/>
<polyline points="803,2527 809,2527 809,2540 815,2530"/><polyline points="848,2527 854,2527 854,2540 860,2530"/><polyline points="893,2527 899,2527 899,2540 905,2530"/><polyline points="937,2527 943,2527 943,2540 949,2530"/>
<polyline points="832,2526 839,2526 839,2565"/><polyline points="877,2526 884,2526 884,2565"/><polyline points="922,2526 929,2526 929,2565"/><polyline points="966,2526 973,2526 973,2565"/>
<line x1="803" y1="2553" x2="838" y2="2553"/><line x1="848" y1="2553" x2="883" y2="2553"/><line x1="893" y1="2553" x2="928" y2="2553"/><line x1="937" y1="2553" x2="972" y2="2553"/>
<path d="M820,2511 l6,5 M824,2511 l-6,5 M865,2511 l6,5 M869,2511 l-6,5 M910,2511 l6,5 M914,2511 l-6,5 M954,2511 l6,5 M958,2511 l-6,5"/>
<line x1="810" y1="2590" x2="835" y2="2590"/><line x1="810" y1="2594" x2="835" y2="2594"/><line x1="855" y1="2590" x2="880" y2="2590"/><line x1="855" y1="2594" x2="880" y2="2594"/><line x1="900" y1="2590" x2="925" y2="2590"/><line x1="900" y1="2594" x2="925" y2="2594"/>
<line x1="803" y1="2592" x2="803" y2="2615"/><line x1="848" y1="2592" x2="848" y2="2615"/><line x1="893" y1="2592" x2="893" y2="2615"/><line x1="937" y1="2592" x2="937" y2="2615"/>
</g>
<g fill="#fff" stroke="#111" stroke-width="1.5">
<circle cx="820" cy="2553" r="5"/><circle cx="865" cy="2553" r="5"/><circle cx="910" cy="2553" r="5"/><circle cx="954" cy="2553" r="5"/>
<circle cx="803" cy="2592" r="12.5"/><circle cx="848" cy="2592" r="12.5"/><circle cx="893" cy="2592" r="12.5"/><circle cx="937" cy="2592" r="12.5"/>
<circle cx="803" cy="2499" r="3.5"/><circle cx="848" cy="2499" r="3.5"/><circle cx="893" cy="2499" r="3.5"/><circle cx="937" cy="2499" r="3.5"/>
<circle cx="782" cy="2565" r="3.5"/><circle cx="982" cy="2565" r="3.5"/><circle cx="848" cy="2625" r="3.5"/><circle cx="893" cy="2625" r="3.5"/>
</g>
<g stroke="#111" stroke-width="1.3"><line x1="803" y1="2580" x2="803" y2="2604"/><line x1="848" y1="2580" x2="848" y2="2604"/><line x1="893" y1="2580" x2="893" y2="2604"/><line x1="937" y1="2580" x2="937" y2="2604"/></g>

<!-- TABLE 2 -->
<rect x="14" y="2719" width="1110" height="150" fill="#3479bf"/>
<rect x="14" y="2869" width="1110" height="40" fill="#eeeeee"/>
<rect x="14" y="2950" width="1110" height="41" fill="#eeeeee"/>
<g stroke="#c2cfe0" stroke-width="1.5">
<line x1="14" y1="2869" x2="1124" y2="2869"/><line x1="14" y1="2909" x2="1124" y2="2909"/><line x1="14" y1="2950" x2="1124" y2="2950"/><line x1="14" y1="2991" x2="1124" y2="2991"/><line x1="14" y1="3031" x2="1124" y2="3031"/>
<line x1="14" y1="2719" x2="14" y2="3031"/><line x1="143" y1="2719" x2="143" y2="3031"/><line x1="286" y1="2719" x2="286" y2="3031"/><line x1="426" y1="2719" x2="426" y2="3031"/><line x1="607" y1="2719" x2="607" y2="3031"/><line x1="717" y1="2719" x2="717" y2="3031"/><line x1="823" y1="2719" x2="823" y2="3031"/><line x1="923" y1="2719" x2="923" y2="3031"/><line x1="1024" y1="2719" x2="1024" y2="3031"/><line x1="1124" y1="2719" x2="1124" y2="3031"/>
</g>
<g class="cn th">
<text x="78" y="2789">型号</text><text x="78" y="2818">CODE</text>
<text x="214" y="2770">进油口</text><text x="214" y="2802">INLET</text><text x="214" y="2834">IN1~2</text>
<text x="356" y="2770">出油口</text><text x="356" y="2802">OUTLET</text><text x="356" y="2834">OUT1~4</text>
<text x="516" y="2770">卸油口</text><text x="516" y="2802">RELIEF PORT</text><text x="516" y="2834">T/NS</text>
<text x="662" y="2804">A</text><text x="770" y="2804">B</text><text x="873" y="2804">C</text><text x="973" y="2804">E</text><text x="1074" y="2804">F</text>
</g>
<g class="cn td">
<text x="78" y="2897">JHT-D100</text><text x="214" y="2897">FS50</text><text x="356" y="2897">FS32</text><text x="516" y="2897">M18×1.5</text><text x="662" y="2897">608</text><text x="770" y="2897">88</text><text x="873" y="2897">144</text><text x="973" y="2897">874</text><text x="1074" y="2897">221</text>
<text x="78" y="2936">JHT-D130</text><text x="214" y="2936">FS50</text><text x="356" y="2936">FS40</text><text x="516" y="2936">M18×1.5</text><text x="662" y="2936">660</text><text x="770" y="2936">74.5</text><text x="873" y="2936">157</text><text x="973" y="2936">926</text><text x="1074" y="2936">227.5</text>
<text x="78" y="2976">JHT-D170</text><text x="214" y="2976">FS50</text><text x="356" y="2976">FS40</text><text x="516" y="2976">M18×1.5</text><text x="662" y="2976">720</text><text x="770" y="2976">102</text><text x="873" y="2976">172</text><text x="973" y="2976">986</text><text x="1074" y="2976">235</text>
<text x="78" y="3017">JHT-D200</text><text x="214" y="3017">FS50</text><text x="356" y="3017">FS40</text><text x="516" y="3017">M18×1.5</text><text x="662" y="3017">780</text><text x="770" y="3017">109.5</text><text x="873" y="3017">187</text><text x="973" y="3017">1046</text><text x="1074" y="3017">242.5</text>
</g>
<text x="13" y="3062" class="cn" font-size="18" fill="#333" textLength="489" lengthAdjust="spacingAndGlyphs">注:以上数据仅做参考,详图请联系我公司销售工程师!</text>
</svg>
</body></html>
